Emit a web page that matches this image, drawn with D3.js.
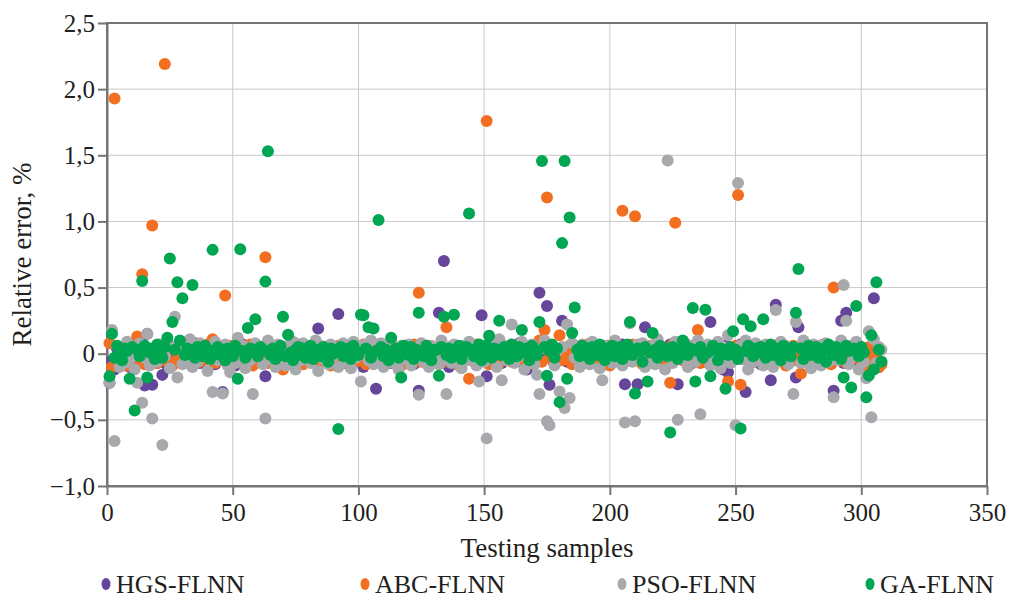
<!DOCTYPE html>
<html>
<head>
<meta charset="utf-8">
<script src="https://cdn.jsdelivr.net/npm/d3@7"></script>
<style>
  body { margin: 0; background: #fff; }
  svg { font-family: "Liberation Serif", serif; }
  .grid line { stroke: #c9c9c9; stroke-width: 1; }
  .axis path, .axis line { stroke: #757575; stroke-width: 2; }
  .axis text { fill: #231f20; font-size: 25px; }
  .frame { fill: none; stroke: #757575; stroke-width: 2; }
  .title { fill: #231f20; font-size: 27px; }
  .legend text { fill: #231f20; font-size: 26px; }
</style>
</head>
<body>
<div id="chart"></div>
<script>
  // series names and colours
  let seriesNames = ["HGS-FLNN", "ABC-FLNN", "PSO-FLNN", "GA-FLNN"];
  let seriesColors = ["#65469b", "#f26f21", "#a8a9ad", "#00a651"];

  // axis ticks
  let xTicks = [0, 50, 100, 150, 200, 250, 300, 350];
  let yTicks = [-1.0, -0.5, 0, 0.5, 1.0, 1.5, 2.0, 2.5];

  // relative error (%) of testing samples 1..308
  let hgs = [
    -0.22, -0.05, -0.12, 0.04, -0.08, 0.02, -0.03, 0.06, -0.1, 0.03,
    -0.06, 0.05, -0.02, 0.08, -0.24, 0.15, -0.04, -0.235, 0.02, -0.07,
    0.04, -0.16, 0.01, -0.09, 0.06, -0.03, 0.03, -0.05, 0.07, -0.02,
    0.02, -0.06, 0.05, -0.03, 0.08, -0.01, -0.07, 0.03, -0.04, 0.06,
    -0.02, 0.04, -0.08, 0.01, 0.05, -0.29, -0.03, 0.06, -0.05, 0.02,
    -0.09, 0.03, -0.01, 0.07, -0.04, 0.02, -0.06, 0.04, 0.01, -0.03,
    0.05, -0.07, -0.17, 0.03, -0.02, 0.06, -0.05, 0.02, -0.08, 0.04,
    -0.01, 0.05, -0.04, 0.02, -0.06, 0.07, -0.03, 0.01, -0.05, 0.03,
    0.06, -0.02, -0.07, 0.19, 0.02, -0.04, 0.05, -0.01, -0.06, 0.03,
    -0.03, 0.3, 0.04, -0.05, 0.02, -0.08, 0.06, -0.02, 0.03, -0.04,
    0.05, -0.1, 0.02, -0.06, 0.04, -0.03, -0.265, 0.07, -0.01, 0.03,
    -0.05, 0.02, -0.07, 0.05, -0.02, 0.04, -0.06, 0.01, 0.06, -0.03,
    0.03, -0.08, 0.05, -0.28, 0.02, -0.04, 0.06, -0.02, 0.04, -0.06,
    0.01, 0.31, -0.05, 0.7, 0.03, -0.1, 0.05, -0.03, 0.02, -0.07,
    0.04, -0.02, 0.06, -0.04, 0.01, 0.05, -0.06, 0.03, 0.29, -0.03,
    -0.17, 0.04, -0.05, 0.07, -0.02, 0.03, -0.07, 0.05, -0.01, 0.02,
    -0.04, 0.06, -0.03, 0.08, -0.06, 0.02, -0.12, 0.04, 0.01, -0.05,
    0.07, 0.46, -0.03, 0.05, 0.36, -0.235, 0.03, -0.08, 0.02, -0.04,
    0.25, 0.01, -0.06, 0.04, -0.02, 0.06, -0.05, 0.03, -0.01, 0.05,
    -0.07, 0.02, -0.03, 0.06, -0.05, 0.01, 0.04, -0.08, 0.03, -0.02,
    0.05, -0.04, 0.02, -0.06, 0.07, -0.23, 0.03, -0.01, 0.04, -0.05,
    -0.23, 0.06, -0.03, 0.2, -0.07, 0.02, -0.04, 0.05, -0.02, 0.03,
    -0.06, 0.04, -0.01, 0.07, -0.05, 0.02, -0.23, 0.06, -0.03, 0.01,
    0.05, -0.08, 0.03, -0.02, 0.06, -0.04, 0.02, -0.06, 0.04, 0.24,
    -0.03, 0.05, -0.07, 0.02, -0.12, 0.06, -0.14, 0.01, -0.05, 0.04,
    -0.02, 0.07, -0.04, -0.29, 0.03, -0.06, 0.05, -0.01, 0.02, -0.08,
    0.04, -0.03, 0.06, -0.2, 0.02, 0.37, -0.05, 0.03, -0.02, 0.05,
    -0.06, 0.04, -0.01, -0.18, 0.2, -0.04, 0.06, -0.03, 0.02, -0.07,
    0.05, -0.02, 0.03, -0.05, 0.07, -0.01, 0.04, -0.06, -0.28, 0.02,
    -0.03, 0.25, -0.07, 0.31, 0.05, -0.04, 0.02, -0.06, 0.06, -0.02,
    0.03, -0.05, 0.04, -0.08, 0.42, -0.03, -0.1, -0.06
  ];

  let abc = [
    0.08, -0.1, 1.93, -0.03, 0.05, -0.06, 0.02, -0.09, 0.04, -0.02,
    0.06, 0.13, -0.05, 0.6, -0.08, 0.03, -0.04, 0.97, 0.01, -0.07,
    0.05, -0.02, 2.19, -0.06, 0.03, -0.09, 0.02, -0.04, 0.06, -0.01,
    -0.05, 0.03, -0.08, 0.01, -0.03, 0.05, -0.06, 0.02, -0.04, 0.07,
    -0.02, 0.11, -0.07, 0.04, -0.05, 0.02, 0.44, -0.03, 0.06, -0.08,
    0.01, -0.04, 0.05, -0.06, 0.03, -0.02, 0.07, -0.09, 0.02, -0.05,
    0.04, -0.01, 0.73, -0.07, 0.03, -0.04, 0.06, -0.03, 0.01, -0.12,
    0.05, -0.06, 0.02, -0.03, 0.07, -0.05, 0.01, -0.08, 0.04, -0.02,
    0.06, -0.04, 0.03, -0.07, 0.05, -0.01, -0.06, 0.02, -0.09, 0.04,
    -0.03, 0.06, -0.05, 0.01, -0.07, 0.03, -0.02, 0.05, -0.06, 0.02,
    -0.04, 0.07, -0.08, 0.03, -0.01, 0.05, -0.05, 0.02, -0.07, 0.04,
    -0.02, 0.06, -0.04, 0.01, -0.06, 0.03, -0.09, 0.05, -0.03, 0.02,
    -0.05, 0.07, -0.01, 0.46, -0.06, 0.03, -0.04, 0.06, -0.08, 0.02,
    -0.03, 0.05, -0.07, 0.01, 0.2, -0.05, 0.04, -0.02, 0.06, -0.09,
    0.03, -0.04, 0.05, -0.19, 0.02, -0.06, 0.07, -0.03, 0.01, -0.05,
    1.76, -0.08, 0.04, -0.02, 0.06, -0.07, 0.03, -0.04, 0.05, -0.01,
    -0.06, 0.02, -0.05, 0.07, -0.03, 0.04, -0.08, 0.01, -0.02, 0.05,
    -0.04, 0.1, -0.06, 0.18, 1.18, -0.03, 0.05, -0.07, 0.02, 0.14,
    -0.05, 0.03, -0.02, 0.06, -0.08, 0.04, -0.01, -0.06, 0.03, -0.04,
    0.07, -0.02, 0.05, -0.05, 0.01, -0.07, 0.04, -0.03, 0.06, -0.09,
    0.02, -0.04, 0.05, -0.01, 1.08, -0.06, 0.03, -0.05, 0.07, 1.04,
    -0.02, 0.04, -0.08, 0.01, -0.05, 0.06, -0.03, 0.02, -0.07, 0.05,
    -0.04, 0.03, -0.06, -0.22, 0.07, 0.99, -0.02, 0.04, -0.05, 0.01,
    -0.09, 0.06, -0.03, 0.02, 0.18, -0.07, 0.05, -0.01, 0.03, -0.06,
    0.04, -0.04, 0.07, -0.08, 0.02, -0.05, -0.21, 0.03, -0.02, 0.06,
    1.2, -0.235, 0.05, -0.04, 0.01, -0.07, 0.04, -0.03, 0.06, -0.05,
    0.02, -0.08, 0.05, -0.01, 0.03, -0.06, 0.07, -0.04, 0.02, -0.09,
    0.04, -0.02, 0.06, -0.05, 0.01, -0.15, 0.05, -0.03, 0.02, -0.07,
    0.06, -0.04, 0.03, -0.06, 0.07, -0.02, 0.04, -0.08, 0.5, -0.03,
    0.05, -0.05, 0.01, -0.07, 0.03, -0.04, 0.06, -0.02, 0.04, -0.06,
    0.02, -0.09, 0.05, -0.03, 0.07, -0.05, -0.1, -0.08
  ];

  let pso = [
    -0.22, 0.18, -0.66, 0.06, -0.1, 0.03, -0.07, 0.09, -0.04, 0.05,
    -0.12, -0.22, 0.08, -0.37, -0.03, 0.15, -0.09, -0.49, 0.04, -0.06,
    0.07, -0.69, -0.02, 0.1, -0.11, 0.05, 0.28, -0.18, 0.03, -0.08,
    0.06, -0.04, 0.11, -0.1, 0.02, -0.06, 0.08, -0.02, 0.05, -0.13,
    0.04, -0.29, 0.09, -0.05, 0.01, -0.3, 0.07, -0.09, -0.14, 0.03,
    -0.07, 0.12, -0.03, 0.06, -0.11, 0.04, -0.05, -0.305, 0.08, -0.02,
    0.05, -0.08, -0.49, 0.1, -0.04, 0.02, -0.1, 0.07, -0.06, 0.03,
    -0.09, 0.06, -0.01, 0.09, -0.12, 0.04, -0.05, 0.08, -0.03, 0.05,
    -0.07, 0.02, 0.1, -0.13, 0.06, -0.04, 0.03, -0.08, 0.07, -0.02,
    0.05, -0.1, 0.01, 0.08, -0.06, 0.04, -0.11, 0.09, -0.03, 0.06,
    -0.21, 0.03, 0.07, -0.05, 0.1, -0.08, 0.02, -0.04, 0.08, -0.1,
    0.05, -0.02, 0.09, -0.07, 0.03, -0.12, 0.06, -0.04, 0.01, 0.07,
    -0.09, 0.04, -0.03, -0.31, 0.08, -0.06, 0.02, -0.1, 0.06, -0.02,
    0.03, -0.08, 0.1, -0.04, -0.305, 0.05, -0.07, 0.07, -0.01, 0.04,
    -0.11, 0.06, -0.05, 0.09, -0.02, 0.03, -0.09, -0.21, 0.05, -0.06,
    -0.64, 0.08, -0.03, 0.04, -0.1, 0.11, -0.2, 0.06, -0.05, 0.02,
    0.22, -0.07, 0.05, -0.02, 0.09, -0.12, 0.03, -0.04, 0.07, -0.08,
    -0.16, -0.305, 0.04, 0.1, -0.51, -0.54, 0.06, -0.09, 0.02, -0.285,
    0.05, -0.41, 0.22, -0.335, 0.08, -0.03, 0.04, -0.1, 0.07, -0.05,
    0.02, -0.08, 0.09, -0.01, 0.05, -0.11, -0.2, 0.06, -0.04, 0.03,
    -0.07, 0.1, -0.02, 0.05, -0.09, -0.52, 0.04, 0.23, -0.06, -0.51,
    0.07, -0.03, 0.08, -0.1, 0.02, -0.05, 0.06, -0.08, 0.11, -0.02,
    0.04, -0.12, 1.46, 0.03, -0.07, 0.09, -0.5, 0.05, -0.04, 0.08,
    -0.1, 0.02, 0.06, -0.06, 0.1, -0.457, 0.04, -0.02, 0.07, -0.09,
    0.03, -0.05, 0.09, -0.11, 0.05, -0.03, 0.14, -0.07, 0.02, -0.54,
    1.29, 0.06, -0.04, 0.1, -0.12, 0.03, -0.06, 0.08, -0.02, 0.05,
    -0.09, 0.07, -0.03, 0.04, -0.1, 0.33, -0.05, 0.09, -0.01, 0.06,
    -0.08, 0.02, -0.305, 0.24, 0.05, -0.07, 0.1, -0.03, 0.04, -0.11,
    0.07, -0.04, 0.06, -0.09, 0.02, 0.08, -0.06, 0.04, -0.33, 0.03,
    -0.05, 0.1, 0.52, 0.25, -0.08, 0.06, -0.02, 0.09, -0.12, 0.04,
    -0.06, -0.185, 0.17, -0.48, 0.11, -0.07, 0.05, 0.03
  ];

  let ga = [
    -0.17, 0.15, -0.03, 0.06, 0.01, -0.05, 0.04, 0.02, -0.19, 0.05,
    -0.43, 0.03, -0.02, 0.55, 0.06, -0.18, 0.01, 0.04, -0.04, 0.07,
    0.02, -0.03, 0.05, 0.12, 0.72, 0.24, 0.03, 0.54, 0.1, 0.42,
    -0.01, 0.04, 0.02, 0.52, -0.03, 0.05, 0.01, -0.02, 0.06, 0.03,
    -0.04, 0.785, 0.02, 0.05, -0.01, 0.03, -0.05, 0.04, 0.01, -0.02,
    0.06, -0.19, 0.79, 0.02, -0.03, 0.195, 0.04, 0.01, 0.26, -0.02,
    0.05, 0.03, 0.545, 1.53, -0.01, 0.04, -0.04, 0.02, 0.06, 0.28,
    -0.02, 0.144, 0.01, -0.05, 0.03, 0.05, -0.01, 0.04, -0.03, 0.02,
    0.06, -0.04, 0.01, 0.03, -0.02, 0.05, 0.02, -0.06, 0.04, 0.0,
    0.03, -0.57, 0.05, -0.02, 0.01, 0.04, -0.04, 0.06, 0.02, -0.01,
    0.295, 0.29, 0.04, 0.2, -0.03, 0.19, 0.02, 1.01, 0.05, -0.02,
    0.03, -0.05, 0.12, 0.01, 0.04, -0.03, -0.18, 0.06, 0.02, -0.01,
    0.05, -0.04, 0.03, 0.31, 0.01, -0.02, 0.06, 0.04, -0.05, 0.02,
    0.03, -0.167, 0.05, 0.28, -0.01, 0.04, -0.03, 0.295, 0.02, 0.06,
    -0.04, 0.01, 0.05, 1.06, 0.03, -0.02, 0.04, 0.07, -0.05, 0.02,
    0.06, 0.136, -0.03, 0.04, 0.01, 0.25, -0.01, 0.05, 0.03, -0.04,
    0.07, 0.02, -0.02, 0.05, 0.18, 0.01, 0.04, -0.05, 0.06, 0.03,
    -0.01, 0.24, 1.457, 0.05, -0.167, 0.02, 0.07, -0.03, 0.04, -0.366,
    0.836, 1.457, -0.19, 1.03, 0.156, 0.35, 0.03, -0.02, 0.06, 0.01,
    0.04, -0.04, 0.05, 0.02, -0.01, 0.07, 0.03, -0.05, 0.04, 0.01,
    0.06, -0.02, 0.03, 0.05, -0.04, 0.02, 0.07, 0.24, -0.01, -0.3,
    0.04, 0.02, -0.06, 0.05, -0.21, 0.01, 0.156, 0.03, -0.03, 0.06,
    0.02, 0.04, -0.02, -0.596, 0.05, 0.01, -0.04, 0.03, 0.1, 0.06,
    -0.01, 0.04, 0.346, -0.21, 0.02, 0.05, -0.03, 0.333, 0.01, -0.17,
    0.06, 0.03, -0.05, 0.04, 0.02, -0.265, -0.01, 0.05, 0.17, 0.03,
    -0.04, -0.565, 0.26, 0.02, 0.06, 0.207, -0.02, 0.04, 0.01, 0.05,
    0.26, -0.03, 0.03, 0.07, -0.01, 0.04, 0.02, -0.05, 0.06, 0.01,
    0.03, -0.02, 0.05, 0.31, 0.64, 0.04, -0.04, 0.02, 0.06, -0.01,
    0.03, 0.05, -0.03, 0.01, 0.04, -0.06, 0.07, 0.02, -0.01, 0.05,
    0.03, -0.04, -0.18, 0.06, 0.02, -0.255, 0.04, 0.36, -0.02, 0.05,
    0.01, -0.33, -0.165, 0.14, -0.12, 0.54, 0.03, -0.06
  ];

  let seriesValues = [hgs, abc, pso, ga];

  // dimensions
  let width = 1012;
  let height = 601;
  let margin = {top: 23, right: 25, bottom: 115, left: 107};
  let dotRadius = 6;

  let svg = d3.select("#chart").append("svg")
    .attr("width", width)
    .attr("height", height);

  let x = d3.scaleLinear().domain([0, 350]).range([margin.left, width - margin.right]);
  let y = d3.scaleLinear().domain([-1, 2.5]).range([height - margin.bottom, margin.top]);

  // comma decimals, true minus sign, plain 0
  let fmtY = function(d) {
    if (d === 0) return "0";
    return d3.format(".1f")(d).replace(".", ",").replace("-", "\u2212");
  };

  // gridlines
  svg.append("g").attr("class", "grid")
    .selectAll("line.h").data(yTicks.slice(1, -1)).enter().append("line")
    .attr("x1", x(0)).attr("x2", x(350))
    .attr("y1", d => y(d)).attr("y2", d => y(d));
  svg.append("g").attr("class", "grid")
    .selectAll("line.v").data(xTicks.slice(1, -1)).enter().append("line")
    .attr("y1", y(-1)).attr("y2", y(2.5))
    .attr("x1", d => x(d)).attr("x2", d => x(d));

  // frame
  svg.append("rect").attr("class", "frame")
    .attr("x", x(0)).attr("y", y(2.5))
    .attr("width", x(350) - x(0)).attr("height", y(-1) - y(2.5));

  // axes
  svg.append("g").attr("class", "axis")
    .attr("transform", "translate(0," + y(-1) + ")")
    .call(d3.axisBottom(x).tickValues(xTicks).tickSize(9).tickPadding(8).tickSizeOuter(0));
  svg.append("g").attr("class", "axis")
    .attr("transform", "translate(" + x(0) + ",0)")
    .call(d3.axisLeft(y).tickValues(yTicks).tickFormat(fmtY).tickSize(9).tickPadding(3).tickSizeOuter(0));
  svg.selectAll(".axis text").style("font-family", "Liberation Serif, serif");

  // points
  seriesValues.forEach(function(vals, si) {
    svg.append("g")
      .selectAll("circle")
      .data(vals)
      .enter().append("circle")
      .attr("cx", (d, i) => x(i + 1))
      .attr("cy", d => y(d))
      .attr("r", dotRadius)
      .style("fill", seriesColors[si]);
  });

  // axis titles
  svg.append("text").attr("class", "title")
    .attr("x", (x(0) + x(350)) / 2).attr("y", 557)
    .attr("text-anchor", "middle")
    .text("Testing samples");
  svg.append("text").attr("class", "title")
    .attr("transform", "translate(31," + ((y(-1) + y(2.5)) / 2) + ") rotate(-90)")
    .attr("text-anchor", "middle")
    .text("Relative error, %");

  // legend
  let legendX = [106, 365, 622, 870];
  let legend = svg.append("g").attr("class", "legend")
    .selectAll("g").data(seriesNames).enter().append("g")
    .attr("transform", (d, i) => "translate(" + legendX[i] + ",584)");
  legend.append("ellipse")
    .attr("rx", 4.5).attr("ry", 6)
    .style("fill", (d, i) => seriesColors[i]);
  legend.append("text")
    .attr("x", 10).attr("y", 9)
    .text(d => d);
</script>
</body>
</html>
